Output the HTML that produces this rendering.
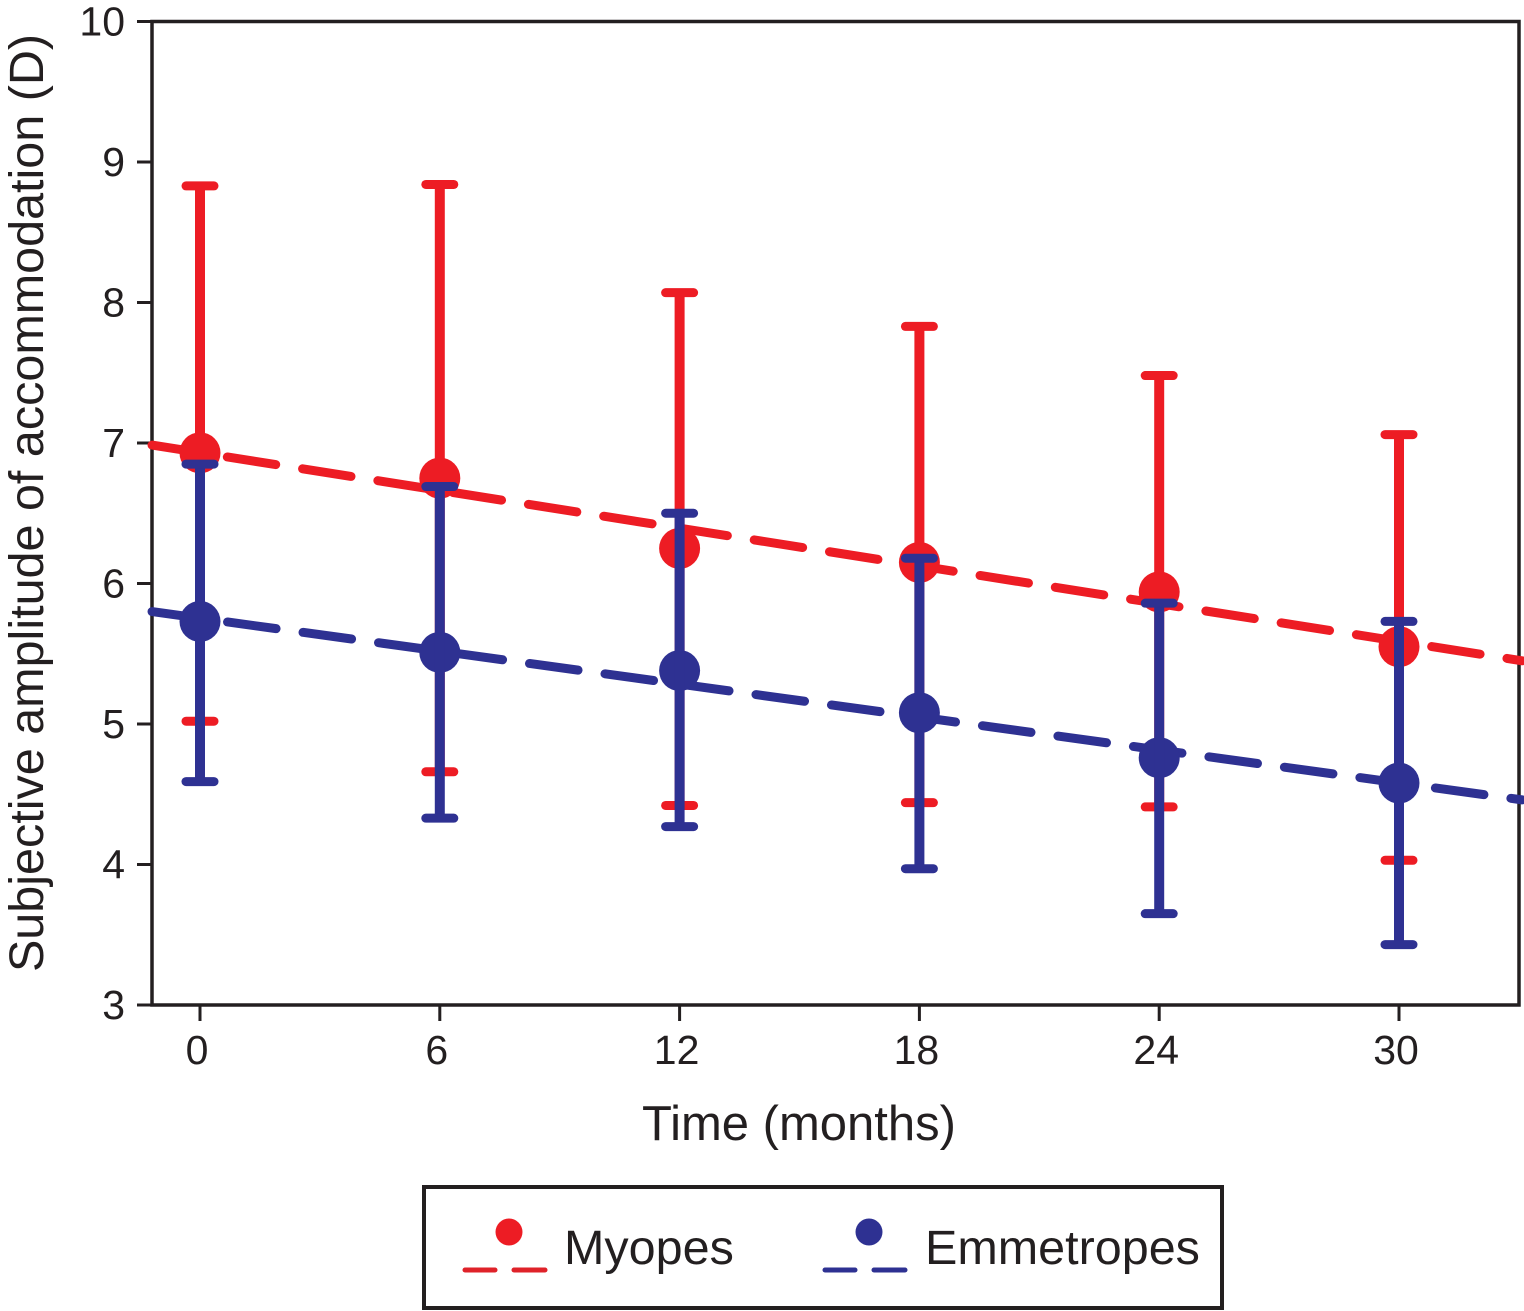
<!DOCTYPE html>
<html>
<head>
<meta charset="utf-8">
<title>Subjective amplitude of accommodation over time</title>
<style>
html,body{margin:0;padding:0;background:#fff;}
svg{display:block;}
text{font-family:"Liberation Sans",sans-serif;fill:#231f20;}
</style>
</head>
<body>
<svg id="chart" xmlns="http://www.w3.org/2000/svg" width="1524" height="1311" viewBox="0 0 1524 1311">
  <rect x="152" y="21.5" width="1367" height="983.5" fill="none" stroke="#231f20" stroke-width="3.5"/>
  <g id="axes"></g>
  <g id="series"></g>
  <text transform="translate(43,503) rotate(-90)" text-anchor="middle" font-size="48.5">Subjective amplitude of accommodation (D)</text>
  <text x="799" y="1140" text-anchor="middle" font-size="49">Time (months)</text>
  <g>
    <rect x="424" y="1187" width="798" height="121" fill="#fff" stroke="#231f20" stroke-width="4"/>
    <g>
      <circle cx="509" cy="1232" r="13.5" fill="#ed1c24"/>
      <line x1="465" y1="1270" x2="495" y2="1270" stroke="#df2229" stroke-width="5" stroke-linecap="round"/>
      <line x1="514" y1="1270" x2="545" y2="1270" stroke="#df2229" stroke-width="5" stroke-linecap="round"/>
      <text x="564" y="1264" font-size="48.5">Myopes</text>
    </g>
    <g>
      <circle cx="869" cy="1232" r="13.5" fill="#2e3192"/>
      <line x1="825" y1="1270" x2="855" y2="1270" stroke="#2e3192" stroke-width="5" stroke-linecap="round"/>
      <line x1="874" y1="1270" x2="905" y2="1270" stroke="#2e3192" stroke-width="5" stroke-linecap="round"/>
      <text x="925" y="1264" font-size="48.5">Emmetropes</text>
    </g>
  </g>
</svg>
<script>
var months = [0, 6, 12, 18, 24, 30];
var yTicks = [3, 4, 5, 6, 7, 8, 9, 10];

var myopesMean = [6.93, 6.75, 6.25, 6.15, 5.94, 5.55];
var myopesUpper = [8.83, 8.84, 8.07, 7.83, 7.48, 7.06];
var myopesLower = [5.02, 4.66, 4.42, 4.44, 4.41, 4.03];
var myopesTrend = [6.985, 5.45];

var emmetropesMean = [5.73, 5.51, 5.38, 5.08, 4.76, 4.58];
var emmetropesUpper = [6.85, 6.69, 6.50, 6.18, 5.86, 5.73];
var emmetropesLower = [4.59, 4.33, 4.27, 3.97, 3.65, 3.43];
var emmetropesTrend = [5.80, 4.46];

var trendMonths = [-1.2, 33.08];

function xScale(m) { return 200 + m * (1399 - 200) / 30; }
function yScale(v) { return 1005 - (v - 3) * (1005 - 21.5) / 7; }

var NS = 'http://www.w3.org/2000/svg';
function make(parent, tag, props) {
  var el = document.createElementNS(NS, tag);
  for (var k in props) { el.setAttribute(k, props[k]); }
  parent.appendChild(el);
  return el;
}

var axes = document.getElementById('axes');
yTicks.forEach(function (v) {
  var tick = make(axes, 'line', { x1: 137, x2: 152, y1: yScale(v), y2: yScale(v), stroke: '#231f20', 'stroke-width': 3 });
  
  
  var label = make(axes, 'text', { x: 125, y: yScale(v) + 14, 'text-anchor': 'end', 'font-size': 41 });
  
  
  label.textContent = v;
});
months.forEach(function (m) {
  var tick = make(axes, 'line', { x1: xScale(m), x2: xScale(m), y1: 1005, y2: 1021, stroke: '#231f20', 'stroke-width': 3 });
  
  
  var label = make(axes, 'text', { x: xScale(m) - 3, y: 1064, 'text-anchor': 'middle', 'font-size': 41 });
  
  
  label.textContent = m;
});

function drawSeries(key, color, mean, upper, lower, trend) {
  var group = make(document.getElementById('series'), 'g', {});
  
  

  var line = make(group, 'line', {
    x1: xScale(trendMonths[0]), y1: yScale(trend[0]),
    x2: xScale(trendMonths[1]), y2: yScale(trend[1]),
    stroke: color, 'stroke-width': 9, 'stroke-linecap': 'round', 'stroke-dasharray': '49 27.2'
  });
  
  

  months.forEach(function (m, i) {
    var x = xScale(m);
    var dot = make(group, 'circle', { cx: x, cy: yScale(mean[i]), r: 20.5, fill: color });
    
    

    var bar = make(group, 'line', { x1: x, x2: x, y1: yScale(upper[i]), y2: yScale(lower[i]), stroke: color, 'stroke-width': 10 });
    
    

    [upper[i], lower[i]].forEach(function (v, j) {
      var cap = make(group, 'line', { x1: x - 14, x2: x + 14, y1: yScale(v), y2: yScale(v), stroke: color, 'stroke-width': 9, 'stroke-linecap': 'round' });
      
      
    });
  });
}

drawSeries('myopes', '#ed1c24', myopesMean, myopesUpper, myopesLower, myopesTrend);
drawSeries('emmetropes', '#2e3192', emmetropesMean, emmetropesUpper, emmetropesLower, emmetropesTrend);
</script>
</body>
</html>
